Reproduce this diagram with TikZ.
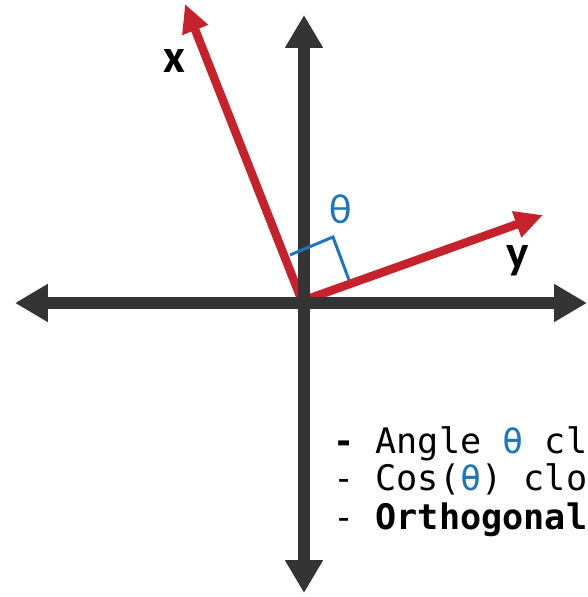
\documentclass[tikz,border=0pt]{standalone}
\usepackage{fontspec}
\setmonofont{DejaVu Sans Mono}
\newfontfamily\labelfont{Carlito}
\usepackage{xcolor}
\usetikzlibrary{arrows.meta}

\definecolor{axisgray}{RGB}{52,52,52}
\definecolor{vecred}{RGB}{198,34,44}
\definecolor{angleblue}{RGB}{30,118,188}

\begin{document}
\begin{tikzpicture}[
  x=0.02cm, y=-0.02cm,
  axisline/.style={
    draw=axisgray, line width=0.24cm,
    {Triangle[length=0.66cm,width=0.72cm]}-{Triangle[length=0.66cm,width=0.72cm]}
  },
  vecline/.style={
    draw=vecred, line width=0.17cm,
    -{Triangle[length=0.56cm,width=0.52cm]}
  },
  veclabel/.style={font=\labelfont\fontsize{27}{30}\selectfont\bfseries, text=black},
  listline/.style={anchor=base west, inner sep=0pt,
    font=\ttfamily\fontsize{20}{24}\selectfont}
]
  \useasboundingbox (0,0) rectangle (587,597);
  \clip (0,0) rectangle (587,597);

  \coordinate (O)     at (302,301);
  \coordinate (xtip)  at (185,4);
  \coordinate (ytip)  at (543,215);
  \coordinate (left)  at (15,303);
  \coordinate (right) at (587,303);
  \coordinate (top)   at (304,15);
  \coordinate (bot)   at (304,593);

  % the two vectors, under the axes
  \draw[vecline] (O) -- (xtip);
  \draw[vecline] (O) -- (ytip);

  % axes
  \draw[axisline] (left) -- (right);
  \draw[axisline] (bot) -- (top);

  % right angle mark
  \coordinate (qa) at (290,255);
  \coordinate (qb) at (333,237);
  \coordinate (qc) at (349,280);
  \draw[angleblue, line width=0.06cm] (qa) -- (qb) -- (qc);

  \node[veclabel] (xlab) at (174,61) {x};
  \node[veclabel] (ylab) at (518,261) {y};
  \node[font=\labelfont\fontsize{24}{28}\selectfont, text=angleblue] (theta) at (341,209) {θ};

  \node[listline] (l1) at (333,453) {\textbf{-} Angle \textcolor{angleblue}{θ} cl};
  \node[listline] (l2) at (333,490) {- Cos(\textcolor{angleblue}{θ}) clo};
  \node[listline] (l3) at (333,529) {- \textbf{Orthogonal}};
\end{tikzpicture}
\end{document}
